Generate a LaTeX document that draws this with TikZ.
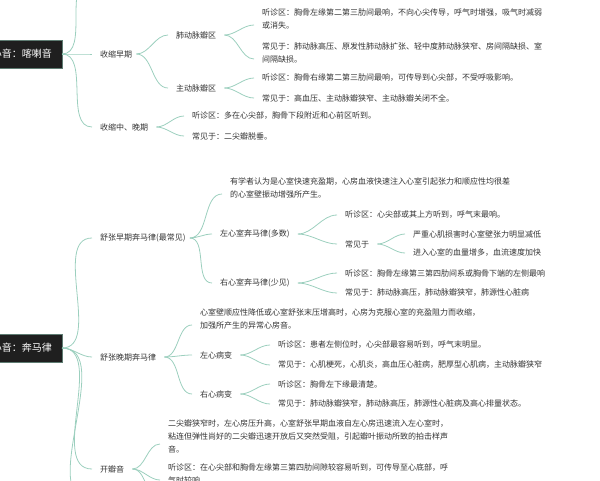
\documentclass[tikz,border=0pt]{standalone}
\usepackage{fontspec}
\setmainfont{Noto Sans CJK SC}
\definecolor{brc}{HTML}{9CCFBE}
\begin{document}
\begin{tikzpicture}[x=1pt,y=-1pt,
  every node/.style={font=\fontsize{8}{13}\selectfont,text=black!80,inner sep=0pt,anchor=west,align=left},
  root/.style={anchor=east,fill=black!88,draw=brc!60!black,text=white,minimum height=28pt,inner xsep=10pt,font=\fontsize{10}{12}\selectfont},
  br/.style={draw=brc,line width=0.8pt},
  con/.style={br,out=0,in=180,looseness=0.9}]
\useasboundingbox (0,0) rectangle (600,480);
\clip (0,0) rectangle (600,480);
% root 1
\node[root] (r1) at (62,54) {心音：喀喇音};
\coordinate (up1) at (90,-20);
\node (s1) at (100,54) {收缩早期};
\node (s2) at (100,127) {收缩中、晚期};
\node (f1) at (176,35) {肺动脉瓣区};
\node (f2) at (176,88) {主动脉瓣区};
\node (l1) at (262,19) {听诊区：胸骨左缘第二第三肋间最响，不向心尖传导，呼气时增强，吸气时减弱\\或消失。};
\node (l2) at (262,53) {常见于：肺动脉高压、原发性肺动脉扩张、轻中度肺动脉狭窄、房间隔缺损、室\\间隔缺损。};
\node (l3) at (262,78) {听诊区：胸骨右缘第二第三肋间最响，可传导到心尖部，不受呼吸影响。};
\node (l4) at (262,98) {常见于：高血压、主动脉瓣狭窄、主动脉瓣关闭不全。};
\node (l5) at (192,116) {听诊区：多在心尖部，胸骨下段附近和心前区听到。};
\node (l6) at (192,136) {常见于：二尖瓣脱垂。};
\draw[con] (r1.east) to (up1);
\draw[con] (r1.east) to ([xshift=-8pt]s1.west);
\draw[con] (r1.east) to ([xshift=-8pt]s2.west);
\draw[con] ([xshift=4pt]s1.east) to ([xshift=-8pt]f1.west);
\draw[con] ([xshift=4pt]s1.east) to ([xshift=-8pt]f2.west);
\draw[con] ([xshift=8pt]f1.east) to ([xshift=-8pt,yshift=-6pt]l1.west);
\draw[con] ([xshift=8pt]f1.east) to ([xshift=-8pt,yshift=-6pt]l2.west);
\draw[con] ([xshift=8pt]f2.east) to ([xshift=-8pt]l3.west);
\draw[con] ([xshift=8pt]f2.east) to ([xshift=-8pt]l4.west);
\draw[con] ([xshift=8pt]s2.east) to ([xshift=-8pt]l5.west);
\draw[con] ([xshift=8pt]s2.east) to ([xshift=-8pt]l6.west);
% root 2
\node[root] (r2) at (62,348) {心音：奔马律};
\node (e1) at (100,238) {舒张早期奔马律(最常见)};
\node (e2) at (100,357) {舒张晚期奔马律};
\node (e3) at (100,469) {开瓣音};
\coordinate (dn2) at (90,500);
\node (a1) at (230,188) {有学者认为是心室快速充盈期，心房血液快速注入心室引起张力和顺应性均很差\\的心室壁振动增强所产生。};
\node (a2) at (220,234) {左心室奔马律(多数)};
\node (a3) at (220,283) {右心室奔马律(少见)};
\node (b1) at (345,215) {听诊区：心尖部或其上方听到，呼气末最响。};
\node (b2) at (345,244) {常见于};
\node (c1) at (413,234) {严重心肌损害时心室壁张力明显减低};
\node (c2) at (413,253) {进入心室的血量增多，血流速度加快};
\node (b3) at (345,273) {听诊区：胸骨左缘第三第四肋间系或胸骨下端的左侧最响};
\node (b4) at (345,293) {常见于：肺动脉高压，肺动脉瓣狭窄，肺源性心脏病};
\node (d1) at (200,319) {心室壁顺应性降低或心室舒张末压增高时，心房为克服心室的充盈阻力而收缩，\\加强所产生的异常心房音。};
\node (d2) at (200,355) {左心病变};
\node (d3) at (200,394) {右心病变};
\node (g1) at (278,345) {听诊区：患者左侧位时，心尖部最容易听到，呼气末明显。};
\node (g2) at (278,365) {常见于：心肌梗死，心肌炎，高血压心脏病，肥厚型心肌病，主动脉瓣狭窄};
\node (g3) at (278,384) {听诊区：胸骨左下缘最清楚。};
\node (g4) at (278,404) {常见于：肺动脉瓣狭窄，肺动脉高压，肺源性心脏病及高心排量状态。};
\node (h1) at (168,436) {二尖瓣狭窄时，左心房压升高，心室舒张早期血液自左心房迅速流入左心室时，\\粘连但弹性尚好的二尖瓣迅速开放后又突然受阻，引起瓣叶振动所致的拍击样声\\音。};
\node (h2) at (168,474) {听诊区：在心尖部和胸骨左缘第三第四肋间隙较容易听到，可传导至心底部，呼\\气时较响。};
\coordinate (h3) at (160,500);
\draw[con] (r2.east) to ([xshift=-8pt]e1.west);
\draw[con] (r2.east) to ([xshift=-8pt]e2.west);
\draw[con] (r2.east) to ([xshift=-8pt]e3.west);
\draw[con] (r2.east) to (dn2);
\draw[con] ([xshift=4pt]e1.east) to ([xshift=-8pt,yshift=-6pt]a1.west);
\draw[con] ([xshift=4pt]e1.east) to ([xshift=-8pt]a2.west);
\draw[con] ([xshift=4pt]e1.east) to ([xshift=-8pt]a3.west);
\draw[con] ([xshift=8pt]a2.east) to ([xshift=-8pt]b1.west);
\draw[con] ([xshift=8pt]a2.east) to ([xshift=-8pt]b2.west);
\draw[con] ([xshift=8pt]b2.east) to ([xshift=-8pt]c1.west);
\draw[con] ([xshift=8pt]b2.east) to ([xshift=-8pt]c2.west);
\draw[con] ([xshift=8pt]a3.east) to ([xshift=-8pt]b3.west);
\draw[con] ([xshift=8pt]a3.east) to ([xshift=-8pt]b4.west);
\draw[con] ([xshift=8pt]e2.east) to ([xshift=-8pt,yshift=-6pt]d1.west);
\draw[con] ([xshift=8pt]e2.east) to ([xshift=-8pt]d2.west);
\draw[con] ([xshift=8pt]e2.east) to ([xshift=-8pt]d3.west);
\draw[con] ([xshift=8pt]d2.east) to ([xshift=-8pt]g1.west);
\draw[con] ([xshift=8pt]d2.east) to ([xshift=-8pt]g2.west);
\draw[con] ([xshift=8pt]d3.east) to ([xshift=-8pt]g3.west);
\draw[con] ([xshift=8pt]d3.east) to ([xshift=-8pt]g4.west);
\draw[con] ([xshift=8pt]e3.east) to ([xshift=-8pt,yshift=-8pt]h1.west);
\draw[con] ([xshift=8pt]e3.east) to ([xshift=-8pt,yshift=-6pt]h2.west);
\draw[con] ([xshift=8pt]e3.east) to (h3);
\end{tikzpicture}
\end{document}
